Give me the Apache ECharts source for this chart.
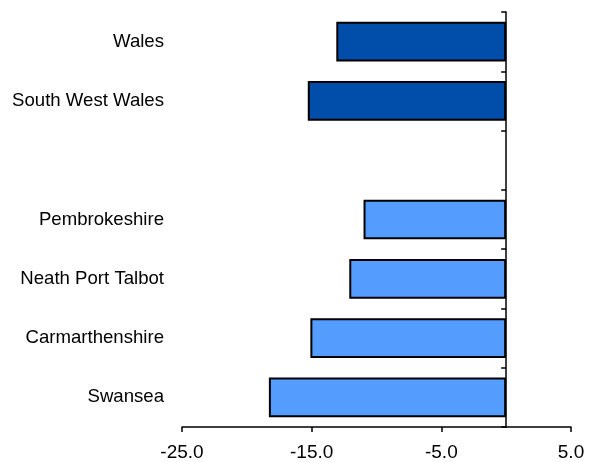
<!DOCTYPE html>
<html>
<head>
<meta charset="utf-8">
<script src="https://cdn.jsdelivr.net/npm/echarts@6/dist/echarts.min.js"></script>
<style>html,body{margin:0;padding:0;background:#fff}#c{width:598px;height:462px}</style>
</head>
<body>
<div id="c"></div>
<script>
const categories = ['Swansea', 'Carmarthenshire', 'Neath Port Talbot', 'Pembrokeshire', '', 'South West Wales', 'Wales'];
const values = [-18.3, -15.1, -12.1, -11.0, null, -15.3, -13.1];
const barColors = ['#559CFF', '#559CFF', '#559CFF', '#559CFF', '#559CFF', '#004DAA', '#004DAA'];
const xTicks = [-25, -15, -5, 5];

const chart = echarts.init(document.getElementById('c'), null, {renderer: 'canvas'});
const font = 'Liberation Sans, Arial, sans-serif';
chart.setOption({
  animation: false,
  grid: {left: 182, right: 27, top: 12, bottom: 34, containLabel: false},
  xAxis: {
    type: 'value', min: xTicks[0], max: xTicks[xTicks.length - 1], interval: 10,
    splitLine: {show: false},
    axisLine: {show: true, onZero: false, lineStyle: {color: '#000', width: 1.5}},
    axisTick: {show: true, inside: false, length: 5, lineStyle: {color: '#000', width: 1.5}},
    axisLabel: {color: '#000', fontSize: 19, fontFamily: font, margin: 16,
      formatter: v => v.toFixed(1)}
  },
  yAxis: [
    {
      type: 'category', data: categories, position: 'left',
      axisLine: {show: false, onZero: false}, axisTick: {show: false},
      axisLabel: {color: '#000', fontSize: 18.6, fontFamily: font, margin: 18}
    },
    {
      type: 'category', data: categories, position: 'left',
      axisLine: {show: true, onZero: true, onZeroAxisIndex: 0, lineStyle: {color: '#000', width: 1.5}},
      axisTick: {show: true, inside: false, length: 5, lineStyle: {color: '#000', width: 1.5}},
      axisLabel: {show: false}
    }
  ],
  series: [{
    type: 'bar', yAxisIndex: 0,
    barWidth: '67%',
    data: values.map((v, i) => ({value: v, itemStyle: {color: barColors[i]}})),
    itemStyle: {borderColor: '#000', borderWidth: 2}
  }]
});
</script>
</body>
</html>
